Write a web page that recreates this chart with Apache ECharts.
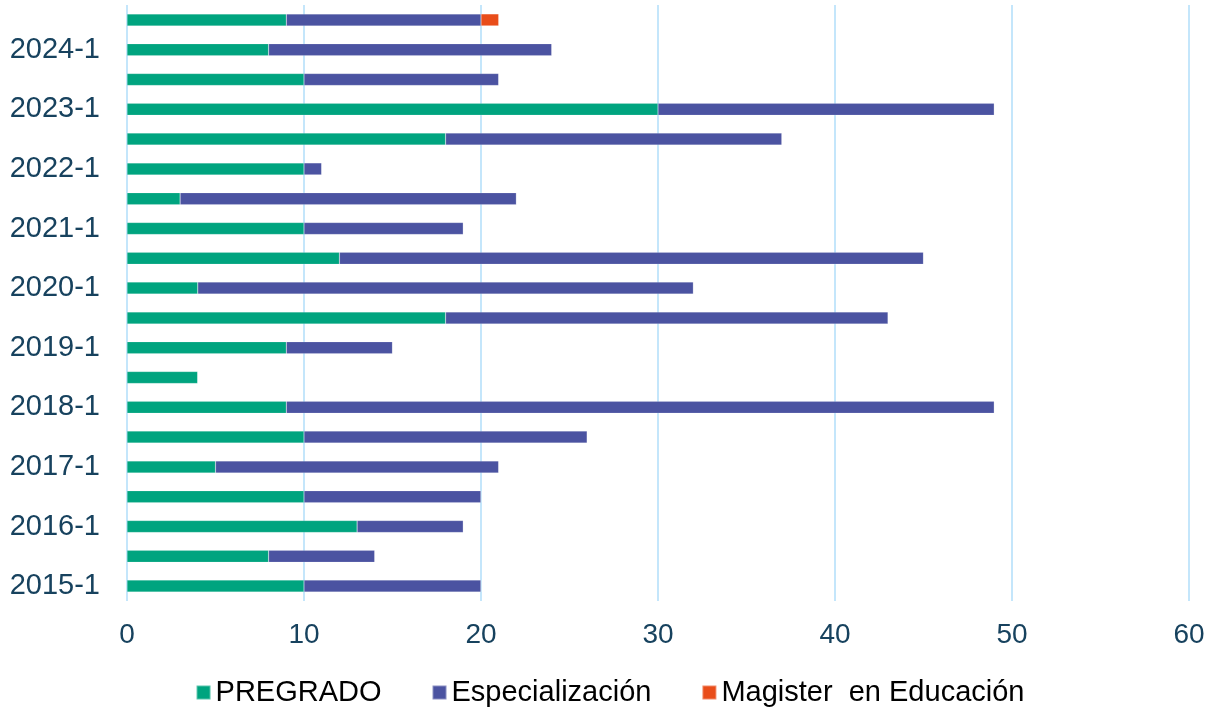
<!DOCTYPE html>
<html>
<head>
<meta charset="utf-8">
<script src="https://cdn.jsdelivr.net/npm/echarts@6/dist/echarts.min.js"></script>
<style>
	html, body { margin: 0; padding: 0; background: #fff; }
	#chart { width: 1220px; height: 710px; }
</style>
</head>
<body>
<div id="chart"></div>
<script>
// periods, bottom to top
const periods = [
	'2015-1', '2015-2', '2016-1', '2016-2', '2017-1', '2017-2', '2018-1', '2018-2', '2019-1', '2019-2',
	'2020-1', '2020-2', '2021-1', '2021-2', '2022-1', '2022-2', '2023-1', '2023-2', '2024-1', '2024-2'
];
const pregrado = [10, 8, 13, 10, 5, 10, 9, 4, 9, 18, 4, 12, 10, 3, 10, 18, 30, 10, 8, 9];
const especializacion = [10, 6, 6, 10, 16, 16, 40, 0, 6, 25, 28, 33, 9, 19, 1, 19, 19, 11, 16, 11];
const magister = [0, 0, 0, 0, 0, 0, 0, 0, 0, 0, 0, 0, 0, 0, 0, 0, 0, 0, 0, 1];
const xTicks = [0, 60, 10];

const myChart = echarts.init(document.getElementById('chart'));
const template = {
	type: 'bar',
	stack: 'total',
	barWidth: 12,
	itemStyle: {
		borderColor: 'rgba(255,255,255,0.35)',
		borderWidth: 0.5,
	},
};
const option = {
	animation: false,
	color: ['#00A47F', '#4B53A1', '#E94D1A'],
	textStyle: { fontFamily: 'Liberation Sans, Arial, sans-serif' },
	grid: {
		left: 127,
		right: 31,
		top: 5,
		bottom: 109,
	},
	legend: {
		bottom: 3,
		left: 'center',
		padding: 0,
		itemWidth: 14,
		itemHeight: 14,
		itemGap: 50,
		icon: 'rect',
		textStyle: { fontSize: 29, color: '#000' },
	},
	xAxis: {
		type: 'value',
		min: xTicks[0],
		max: xTicks[1],
		interval: xTicks[2],
		axisLine: { show: false },
		axisTick: { show: false },
		axisLabel: { fontSize: 28, color: '#17425E', margin: 20 },
		splitLine: { lineStyle: { color: '#C4E6FB', width: 2 } },
	},
	yAxis: {
		type: 'category',
		data: periods,
		axisLine: { show: false },
		axisTick: { show: false },
		axisLabel: { fontSize: 29, color: '#17425E', interval: 1, margin: 27 },
	},
	series: [],
};
const values = [
	{ name: 'PREGRADO', value: pregrado },
	{ name: 'Especialización', value: especializacion },
	{ name: 'Magister  en Educación', value: magister },
];
for (const value of values) {
	const el = { ...template };
	el.name = value.name;
	el.data = value.value;
	option.series.push(el);
}
myChart.setOption(option);
</script>
</body>
</html>
